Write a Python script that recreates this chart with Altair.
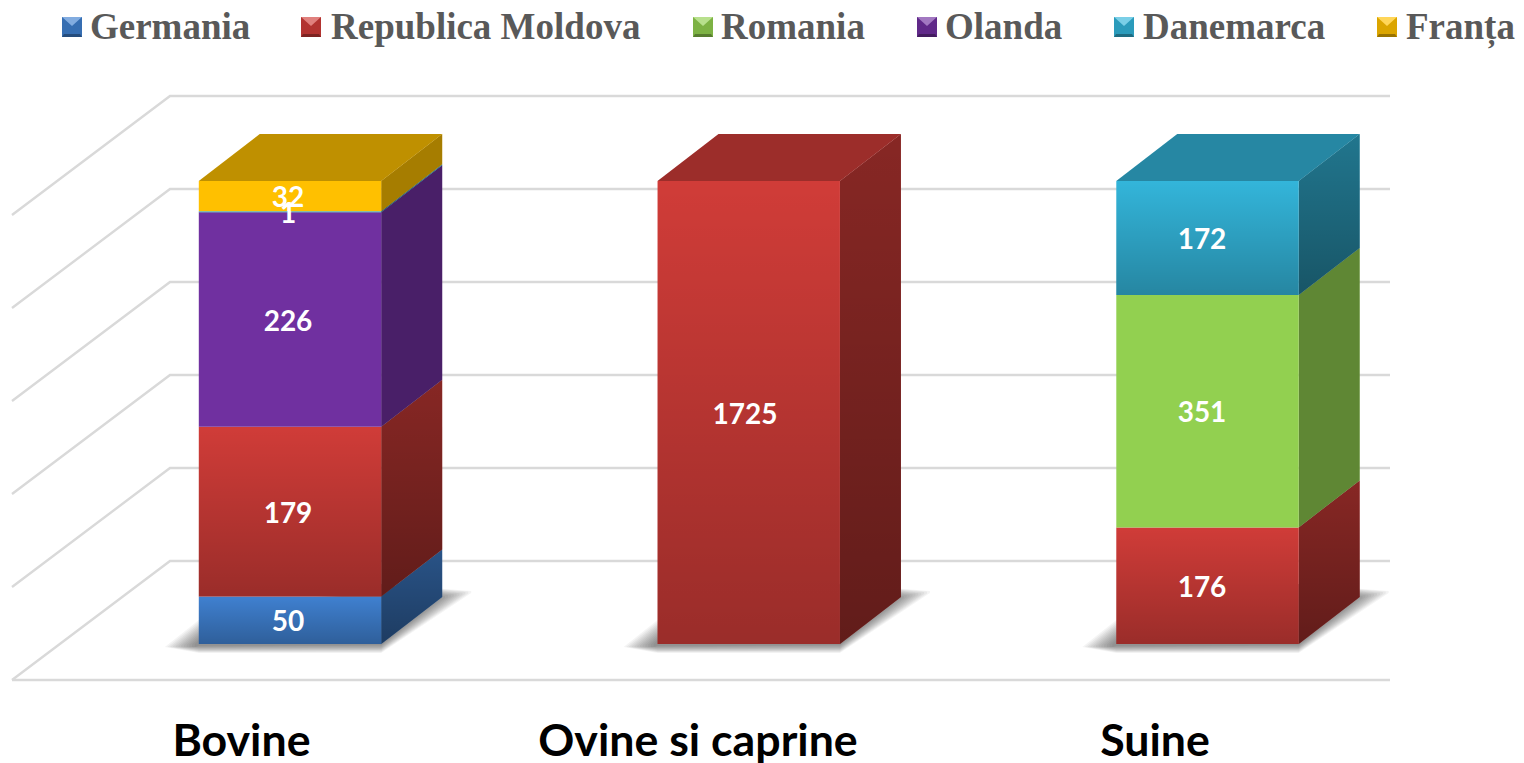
import altair as alt
import pandas as pd

# ---- chart values ----
categories = ["Bovine", "Ovine si caprine", "Suine"]
series = ["Germania", "Republica Moldova", "Romania", "Olanda", "Danemarca", "Franța"]
colors = ["#3F80D0", "#D03C38", "#92D050", "#7030A0", "#33B5DA", "#FFC000"]
germania = [50, 0, 0]
moldova = [179, 1725, 176]
romania = [0, 0, 351]
olanda = [226, 0, 0]
danemarca = [1, 0, 172]
franta = [32, 0, 0]
all_values = [germania, moldova, romania, olanda, danemarca, franta]
gradient_series = ["Germania", "Republica Moldova", "Danemarca"]

# ---- page geometry ----
W, H = 1508, 755
PX_PER_CAT, PX_PER_PCT = 458.75, 4.63
ZERO_X, ZERO_Y = 282, 636           # chart pixels of category 0 / 0 %
def ux(px):                         # pixel length -> category units
    return px / PX_PER_CAT
def uy(px):                         # pixel length -> percent units
    return px / PX_PER_PCT

HALF = ux(91.2)
DX, DY = ux(61), uy(47)
xs = alt.Scale(domain=[-ZERO_X / PX_PER_CAT, (W - ZERO_X) / PX_PER_CAT], nice=False, zero=False)
ys = alt.Scale(domain=[(ZERO_Y - H) / PX_PER_PCT, ZERO_Y / PX_PER_PCT], nice=False, zero=False)
X = alt.X("x:Q", scale=xs, axis=None)
Y = alt.Y("y:Q", scale=ys, axis=None)
Y2 = alt.Y2("y2:Q")
color_scale = alt.Scale(domain=series, range=colors)
label_px = [288, 745, 1202]         # data label centres
name_px = [241.5, 698, 1155]        # category label centres

# ---- derived tables (100 % stacked) ----
seg, side, top = [], [], []
for i, c in enumerate(categories):
    total = sum(v[i] for v in all_values)
    cum, last = 0, None
    for s, v in zip(series, all_values):
        if v[i] == 0:
            continue
        lo, hi = cum / total * 100, (cum + v[i]) / total * 100
        cum += v[i]
        last = s
        seg.append(dict(cat=i, name=c, series=s, value=v[i], x=i - HALF, x2=i + HALF,
                        y=lo, y2=hi, mid=(lo + hi) / 2, tx=ux(label_px[i] - 290),
                        lx=ux(name_px[i] - 290)))
        fid = f"{i}-{s}"
        side.append(dict(fid=fid, series=s, x=i + HALF, y=lo, y2=hi))
        side.append(dict(fid=fid, series=s, x=i + HALF + DX, y=lo + DY, y2=hi + DY))
    for x, a, b in [(i - HALF, 100, 100), (i - HALF + DX, 100, 100 + DY),
                    (i + HALF, 100, 100 + DY), (i + HALF + DX, 100 + DY, 100 + DY)]:
        top.append(dict(fid=str(i), series=last, x=x, y=a, y2=b))
seg, side, top = pd.DataFrame(seg), pd.DataFrame(side), pd.DataFrame(top)

# gridlines: front-left corner, back-left corner, back-right end
grid = []
for g in [0, 20, 40, 60, 80, 100]:
    gp = uy(g * 4.65)
    pts = [(ux(12 - 290), gp + uy(-36)), (ux(170 - 290), gp + uy(83)), (ux(1390 - 290), gp + uy(83))]
    for k, (x, y) in enumerate(pts):
        grid.append(dict(g=str(g), k=k, x=x, y=y))
for k, x in enumerate([ux(12 - 290), ux(1390 - 290)]):
    grid.append(dict(g="front", k=k, x=x, y=uy(-36)))
grid = pd.DataFrame(grid)

# soft floor shadow: nested translucent shapes
shadow = []
RINGS = 12
for i in range(3):
    for k in range(RINGS):
        t = k / (RINGS - 1)
        L, R = i - HALF, i + HALF
        fid = f"{i}-{k}"
        shadow += [
            dict(fid=fid, x=L - ux(34 - 30 * t), y=uy(-3), y2=uy(-3 + 3 * t)),
            dict(fid=fid, x=L, y=uy(-9 + 7 * t), y2=uy(24 - 20 * t)),
            dict(fid=fid, x=R, y=uy(-9 + 8 * t), y2=uy(60)),
            dict(fid=fid, x=R + ux(90 - 32 * t), y=uy(51 - 6 * t), y2=uy(53 - 6 * t)),
        ]
shadow = pd.DataFrame(shadow)

# ---- legend icons (bevelled squares) ----
icon_px = [72, 311, 703, 927, 1124, 1387]
icons = pd.DataFrame(dict(series=series, x=[ux(p - 290) for p in icon_px]))
ICON_Y = alt.value(19)
ICON_SIZE = 400
SQUARE = "M-1,-1L1,-1L1,1L-1,1Z"
TOP_TRI = "M-1,-1L1,-1L0,-.1Z"
LOWER = "M-1,1L1,1L1,-1L0,-.1L-1,-1Z"
BOTTOM = "M-1,1L1,1L.8,.7L-.8,.7Z"

def overlay(top_color, bottom_color):
    return alt.Gradient(gradient="linear", x1=0, x2=0, y1=0, y2=1,
                        stops=[alt.GradientStop(color=top_color, offset=0),
                               alt.GradientStop(color=bottom_color, offset=1)])

legend = alt.Legend(
    orient="none", legendX=45, legendY=1, direction="horizontal", columns=6,
    gridAlign="none", symbolType="square", symbolSize=ICON_SIZE, symbolOpacity=0,
    symbolStrokeWidth=0, labelFont="Liberation Serif", labelFontWeight="bold",
    labelFontSize=37, labelColor="#595959", labelOffset=0, columnPadding=43,
    labelLimit=500, padding=0, values=series)
col = alt.Color("series:N", scale=color_scale, title=None, legend=legend)
is_grad = alt.FieldOneOfPredicate(field="series", oneOf=gradient_series)

layers = [
    alt.Chart(grid).mark_line(color="#D9D9D9", strokeWidth=2.4).encode(
        x=X, y=Y, detail="g:N", order="k:Q"),
    alt.Chart(shadow).mark_area(color="#000000", opacity=0.042).encode(
        x=X, y=Y, y2=Y2, detail="fid:N"),
    # top faces
    alt.Chart(top).mark_area(opacity=1).encode(x=X, y=Y, y2=Y2, detail="fid:N", color=col),
    alt.Chart(top).mark_area(color="#000000", opacity=0.25).encode(x=X, y=Y, y2=Y2, detail="fid:N"),
    # side faces
    alt.Chart(side).mark_area(opacity=1).encode(x=X, y=Y, y2=Y2, detail="fid:N", color=col),
    alt.Chart(side).mark_area(color="#000000", opacity=0.35).encode(x=X, y=Y, y2=Y2, detail="fid:N"),
    alt.Chart(side).transform_filter(is_grad).mark_area(
        color=overlay("rgba(0,0,0,0)", "rgba(0,0,0,0.28)")).encode(x=X, y=Y, y2=Y2, detail="fid:N"),
    # front faces
    alt.Chart(seg).mark_rect(opacity=1).encode(x=X, x2="x2:Q", y=Y, y2=Y2, color=col),
    alt.Chart(seg).transform_filter(is_grad).mark_rect(
        color=overlay("rgba(0,0,0,0)", "rgba(0,0,0,0.26)")).encode(x=X, x2="x2:Q", y=Y, y2=Y2),
    # data labels
    alt.Chart(seg).mark_text(color="white", font="Lato", fontWeight="bold", fontSize=28,
                             baseline="middle", align="center", dy=3).encode(
        x=alt.X("tx:Q", scale=xs, axis=None), y=alt.Y("mid:Q", scale=ys, axis=None),
        text=alt.Text("value:Q")),
    # category labels
    alt.Chart(seg.drop_duplicates("cat")).mark_text(
        color="#000000", font="Lato", fontWeight="bold", fontSize=44.7,
        baseline="middle", align="center").encode(
        x=alt.X("lx:Q", scale=xs, axis=None), y=alt.value(735), text="name:N"),
    # legend icons
    alt.Chart(icons).mark_point(shape=SQUARE, filled=True, size=ICON_SIZE, opacity=1, strokeWidth=0).encode(
        x=X, y=ICON_Y, color=col),
    alt.Chart(icons).mark_point(shape=TOP_TRI, filled=True, size=ICON_SIZE, opacity=.35, strokeWidth=0,
                                color="#FFFFFF").encode(x=X, y=ICON_Y),
    alt.Chart(icons).mark_point(shape=LOWER, filled=True, size=ICON_SIZE, opacity=.14, strokeWidth=0,
                                color="#000000").encode(x=X, y=ICON_Y),
    alt.Chart(icons).mark_point(shape=BOTTOM, filled=True, size=ICON_SIZE, opacity=.3, strokeWidth=0,
                                color="#000000").encode(x=X, y=ICON_Y),
]

chart = alt.layer(*layers).properties(
    width=W, height=H, padding=0, background="white",
    autosize=alt.AutoSizeParams(type="none"),
).configure_view(stroke=None)

chart.save("out.html", embed_options={"renderer": "svg", "actions": False})
